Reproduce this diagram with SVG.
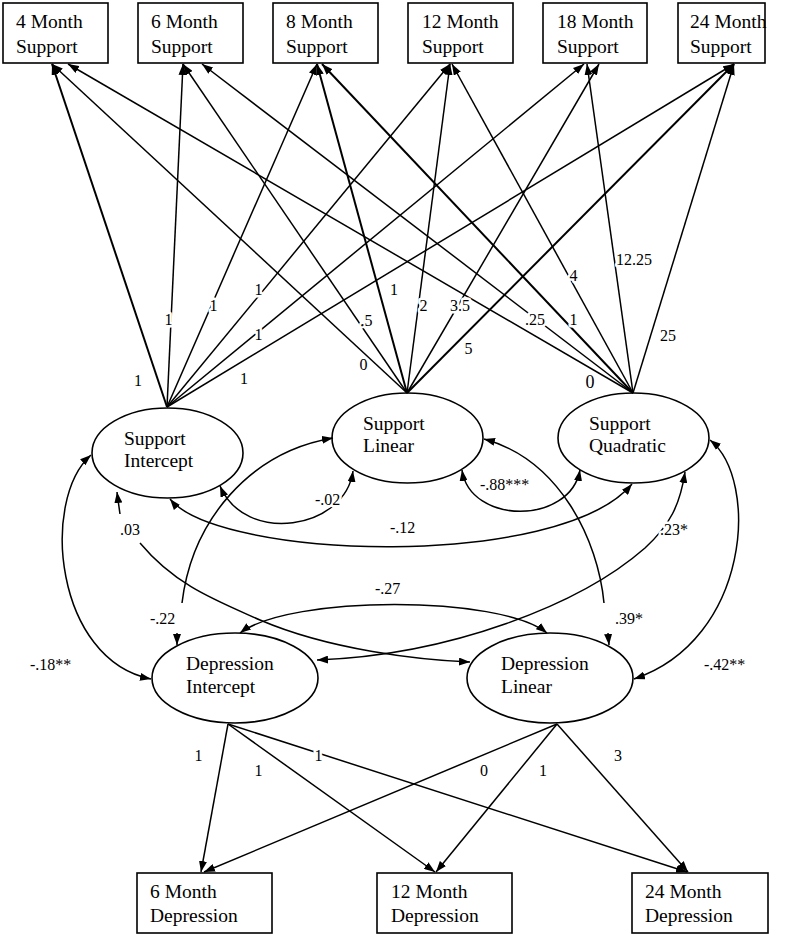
<svg xmlns="http://www.w3.org/2000/svg" width="787" height="935" viewBox="0 0 787 935">
<style>
.box{fill:#fff;stroke:#000;stroke-width:1.6}
.ell{fill:#fff;stroke:#000;stroke-width:1.6}
.nt{font-family:"Liberation Serif","Times New Roman",serif;font-size:19.5px;fill:#000}
.ln{fill:none;stroke:#000;stroke-width:1.5}
.lnb{fill:none;stroke:#000;stroke-width:2}
.lb{font-family:"Liberation Serif","Times New Roman",serif;font-size:16px;fill:#000;stroke:#fff;stroke-width:5;paint-order:stroke;stroke-linejoin:round}
.c{text-anchor:middle}
</style>
<defs>
<marker id="ah" viewBox="0 0 11 8" refX="11" refY="4" markerWidth="11" markerHeight="8" markerUnits="userSpaceOnUse" orient="auto-start-reverse">
<path d="M0,0 L11,4 L0,8 z" fill="#000"/>
</marker>
</defs>
<rect width="787" height="935" fill="#fff"/>

<g id="sup4"><rect class="box" x="3" y="3" width="105" height="60"/><text class="nt" x="16" y="28">4 Month</text><text class="nt" x="16" y="53">Support</text></g>
<g id="sup6"><rect class="box" x="138" y="3" width="105" height="60"/><text class="nt" x="151" y="28">6 Month</text><text class="nt" x="151" y="53">Support</text></g>
<g id="sup8"><rect class="box" x="273" y="3" width="105" height="60"/><text class="nt" x="286" y="28">8 Month</text><text class="nt" x="286" y="53">Support</text></g>
<g id="sup12"><rect class="box" x="408" y="3" width="105" height="60"/><text class="nt" x="422" y="28">12 Month</text><text class="nt" x="422" y="53">Support</text></g>
<g id="sup18"><rect class="box" x="543" y="3" width="104" height="60"/><text class="nt" x="557" y="28">18 Month</text><text class="nt" x="557" y="53">Support</text></g>
<g id="sup24"><rect class="box" x="678" y="3" width="87" height="60"/><text class="nt" x="690" y="28">24 Month</text><text class="nt" x="690" y="53">Support</text></g>

<g id="supInt"><ellipse class="ell" cx="167.5" cy="453" rx="75.5" ry="45"/><text class="nt" x="124" y="445">Support</text><text class="nt" x="124" y="467">Intercept</text></g>
<g id="supLin"><ellipse class="ell" cx="407.5" cy="438" rx="75.5" ry="45"/><text class="nt" x="363" y="430">Support</text><text class="nt" x="363" y="452">Linear</text></g>
<g id="supQuad"><ellipse class="ell" cx="633.5" cy="438" rx="75.5" ry="45"/><text class="nt" x="589" y="430">Support</text><text class="nt" x="589" y="452">Quadratic</text></g>
<g id="depInt"><ellipse class="ell" cx="235" cy="678" rx="83" ry="45"/><text class="nt" x="186" y="670">Depression</text><text class="nt" x="186" y="693">Intercept</text></g>
<g id="depLin"><ellipse class="ell" cx="550" cy="678" rx="83" ry="45"/><text class="nt" x="501" y="670">Depression</text><text class="nt" x="501" y="693">Linear</text></g>

<g id="dep6"><rect class="box" x="137" y="873" width="135" height="60"/><text class="nt" x="150" y="898">6 Month</text><text class="nt" x="150" y="922">Depression</text></g>
<g id="dep12"><rect class="box" x="377" y="873" width="135" height="60"/><text class="nt" x="391" y="898">12 Month</text><text class="nt" x="391" y="922">Depression</text></g>
<g id="dep24"><rect class="box" x="632" y="873" width="136" height="60"/><text class="nt" x="645" y="898">24 Month</text><text class="nt" x="645" y="922">Depression</text></g>

<g id="connectors">
<path class="lnb" d="M167,407 L52,64" marker-end="url(#ah)"/>
<path class="ln" d="M167,407 L183,64" marker-end="url(#ah)"/>
<path class="ln" d="M167,407 L317,64" marker-end="url(#ah)"/>
<path class="ln" d="M167,407 L450,64" marker-end="url(#ah)"/>
<path class="ln" d="M167,407 L584,64" marker-end="url(#ah)"/>
<path class="ln" d="M167,407 L734,64" marker-end="url(#ah)"/>
<path class="ln" d="M407,393 L52,64" marker-end="url(#ah)"/>
<path class="ln" d="M407,393 L183,64" marker-end="url(#ah)"/>
<path class="lnb" d="M407,393 L317,64" marker-end="url(#ah)"/>
<path class="ln" d="M407,393 L450,64" marker-end="url(#ah)"/>
<path class="ln" d="M407,393 L599,64" marker-end="url(#ah)"/>
<path class="lnb" d="M407,393 L734,64" marker-end="url(#ah)"/>
<path class="ln" d="M633,393 L68,64" marker-end="url(#ah)"/>
<path class="ln" d="M633,393 L202,64" marker-end="url(#ah)"/>
<path class="lnb" d="M633,393 L322,64" marker-end="url(#ah)"/>
<path class="ln" d="M633,393 L452,64" marker-end="url(#ah)"/>
<path class="ln" d="M633,393 L587,64" marker-end="url(#ah)"/>
<path class="ln" d="M633,393 L734,64" marker-end="url(#ah)"/>
<path class="ln" d="M228,724 L201,872" marker-end="url(#ah)"/>
<path class="ln" d="M228,724 L435,872" marker-end="url(#ah)"/>
<path class="ln" d="M228,724 L687,872" marker-end="url(#ah)"/>
<path class="ln" d="M557,724 L204,872" marker-end="url(#ah)"/>
<path class="ln" d="M557,724 L436,872" marker-end="url(#ah)"/>
<path class="ln" d="M557,724 L688,872" marker-end="url(#ah)"/>
<path class="ln" d="M220,486 C245,545 345,530 353,471" marker-start="url(#ah)" marker-end="url(#ah)"/>
<path class="ln" d="M462,470 C470,525 570,525 580,470" marker-start="url(#ah)" marker-end="url(#ah)"/>
<path class="ln" d="M170,499 C220,560 560,570 632,484" marker-start="url(#ah)" marker-end="url(#ah)"/>
<path class="ln" d="M685,472 C680,505 670,525 645,548 C580,605 450,655 317,660" marker-start="url(#ah)" marker-end="url(#ah)"/>
<path class="ln" d="M484,439 C560,460 598,540 604,603" marker-start="url(#ah)"/>
<path class="ln" d="M608,633 L609,645" marker-end="url(#ah)"/>
<path class="ln" d="M333,438 C250,452 192,520 182,603" marker-start="url(#ah)"/>
<path class="ln" d="M177,633 L177,645" marker-end="url(#ah)"/>
<path class="ln" d="M120,514 C119,507 118,500 117,492" marker-end="url(#ah)"/>
<path class="ln" d="M140,543 C175,585 215,600 260,620 C330,650 420,660 470,662" marker-end="url(#ah)"/>
<path class="ln" d="M91,455 C40,500 55,660 151,679" marker-start="url(#ah)" marker-end="url(#ah)"/>
<path class="ln" d="M710,440 C760,480 750,640 634,679" marker-start="url(#ah)" marker-end="url(#ah)"/>
<path class="ln" d="M240,633 C290,595 500,595 547,633" marker-start="url(#ah)" marker-end="url(#ah)"/>
</g>

<g id="labels">
<text class="lb c" x="138" y="386">1</text>
<text class="lb c" x="168.5" y="325">1</text>
<text class="lb c" x="213.5" y="311">1</text>
<text class="lb c" x="258.5" y="295">1</text>
<text class="lb c" x="258.5" y="340">1</text>
<text class="lb c" x="244" y="384">1</text>
<text class="lb c" x="363.5" y="370">0</text>
<text class="lb c" x="366.5" y="326">.5</text>
<text class="lb c" x="394" y="295">1</text>
<text class="lb c" x="423.5" y="311">2</text>
<text class="lb c" x="460" y="311">3.5</text>
<text class="lb c" x="468.5" y="354">5</text>
<text class="lb c" x="590" y="388" style="font-size:18px">0</text>
<text class="lb c" x="535" y="325">.25</text>
<text class="lb c" x="573.5" y="325">1</text>
<text class="lb c" x="573.5" y="281">4</text>
<text class="lb" x="616" y="265">12.25</text>
<text class="lb c" x="668" y="341">25</text>
<text class="lb c" x="198.5" y="761">1</text>
<text class="lb c" x="258.5" y="776">1</text>
<text class="lb c" x="318.5" y="761">1</text>
<text class="lb c" x="484" y="776">0</text>
<text class="lb c" x="543" y="776">1</text>
<text class="lb c" x="618" y="761">3</text>
<text class="lb" x="315" y="505">-.02</text>
<text class="lb" x="480" y="490">-.88***</text>
<text class="lb" x="390" y="533">-.12</text>
<text class="lb" x="120" y="535">.03</text>
<text class="lb" x="660" y="535">.23*</text>
<text class="lb" x="375" y="594">-.27</text>
<text class="lb" x="150" y="624">-.22</text>
<text class="lb" x="615" y="624">.39*</text>
<text class="lb" x="30" y="670">-.18**</text>
<text class="lb" x="704" y="670">-.42**</text>
</g>
</svg>
